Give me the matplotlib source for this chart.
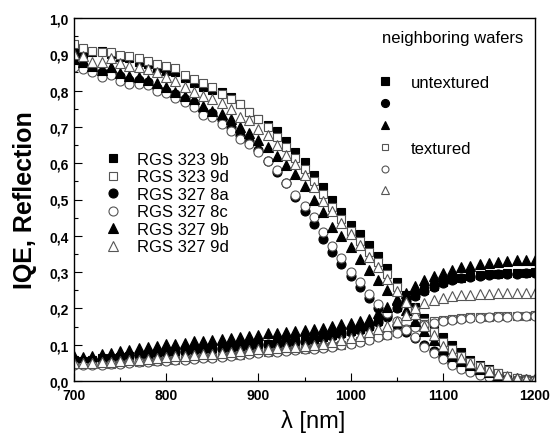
import numpy as np
import matplotlib
matplotlib.use("Agg")
import matplotlib.pyplot as plt
from matplotlib.ticker import MultipleLocator, FuncFormatter

plt.rcParams['font.family'] = ['Liberation Sans', 'DejaVu Sans']

# wavelength grid (nm), one point every 10 nm
lam = list(range(700, 1201, 10))

# internal quantum efficiency
iqe_323_9b = [0.905, 0.900, 0.905, 0.908, 0.900, 0.893, 0.889, 0.878, 0.873, 0.862,
              0.855, 0.850, 0.834, 0.822, 0.810, 0.802, 0.795, 0.781, 0.762, 0.741,
              0.722, 0.705, 0.690, 0.661, 0.632, 0.603, 0.567, 0.535, 0.499, 0.466,
              0.431, 0.405, 0.375, 0.343, 0.310, 0.272, 0.237, 0.203, 0.174, 0.146,
              0.121, 0.099, 0.079, 0.059, 0.044, 0.033, 0.023, 0.013, 0.008, 0.005,
              0.004]
iqe_323_9d = [0.928, 0.917, 0.910, 0.905, 0.905, 0.898, 0.896, 0.889, 0.882, 0.873,
              0.869, 0.861, 0.843, 0.832, 0.820, 0.809, 0.791, 0.776, 0.763, 0.741,
              0.722, 0.700, 0.672, 0.645, 0.613, 0.585, 0.550, 0.516, 0.480, 0.446,
              0.413, 0.386, 0.356, 0.328, 0.295, 0.260, 0.226, 0.192, 0.162, 0.136,
              0.108, 0.087, 0.069, 0.053, 0.040, 0.030, 0.021, 0.013, 0.008, 0.005,
              0.004]
iqe_327_8a = [0.875, 0.870, 0.860, 0.850, 0.852, 0.840, 0.830, 0.828, 0.823, 0.806,
              0.800, 0.790, 0.778, 0.765, 0.745, 0.737, 0.718, 0.700, 0.677, 0.662,
              0.636, 0.605, 0.577, 0.545, 0.508, 0.469, 0.432, 0.390, 0.356, 0.322,
              0.290, 0.258, 0.230, 0.201, 0.176, 0.155, 0.135, 0.118, 0.100, 0.083,
              0.066, 0.050, 0.038, 0.028, 0.020, 0.013, 0.008, 0.005, 0.003, 0.002,
              0.002]
iqe_327_8c = [0.864, 0.860, 0.850, 0.838, 0.843, 0.827, 0.818, 0.818, 0.815, 0.800,
              0.793, 0.779, 0.768, 0.754, 0.733, 0.726, 0.708, 0.690, 0.667, 0.652,
              0.632, 0.607, 0.580, 0.545, 0.513, 0.481, 0.451, 0.411, 0.373, 0.338,
              0.301, 0.274, 0.240, 0.212, 0.188, 0.165, 0.143, 0.120, 0.093, 0.077,
              0.061, 0.044, 0.033, 0.024, 0.017, 0.011, 0.007, 0.004, 0.003, 0.002,
              0.002]
iqe_327_9b = [0.887, 0.878, 0.869, 0.858, 0.864, 0.848, 0.839, 0.837, 0.830, 0.821,
              0.809, 0.797, 0.786, 0.777, 0.757, 0.745, 0.736, 0.721, 0.699, 0.684,
              0.665, 0.644, 0.620, 0.596, 0.570, 0.538, 0.498, 0.465, 0.425, 0.400,
              0.370, 0.335, 0.306, 0.278, 0.251, 0.222, 0.195, 0.166, 0.139, 0.114,
              0.089, 0.070, 0.055, 0.043, 0.033, 0.024, 0.017, 0.012, 0.008, 0.006,
              0.005]
iqe_327_9d = [0.900, 0.894, 0.880, 0.878, 0.889, 0.876, 0.869, 0.864, 0.860, 0.850,
              0.837, 0.827, 0.809, 0.797, 0.786, 0.777, 0.767, 0.749, 0.726, 0.718,
              0.695, 0.679, 0.650, 0.623, 0.597, 0.568, 0.534, 0.497, 0.469, 0.435,
              0.405, 0.376, 0.341, 0.313, 0.281, 0.249, 0.218, 0.185, 0.152, 0.127,
              0.097, 0.078, 0.064, 0.050, 0.038, 0.028, 0.019, 0.013, 0.008, 0.006,
              0.005]

# reflection
refl_323_9b = [0.057, 0.056, 0.058, 0.062, 0.064, 0.067, 0.070, 0.073, 0.075, 0.078,
               0.081, 0.083, 0.085, 0.087, 0.089, 0.090, 0.092, 0.094, 0.096, 0.099,
               0.101, 0.103, 0.105, 0.107, 0.110, 0.113, 0.117, 0.121, 0.126, 0.131,
               0.137, 0.144, 0.152, 0.166, 0.185, 0.205, 0.224, 0.238, 0.251, 0.263,
               0.272, 0.280, 0.285, 0.289, 0.292, 0.294, 0.296, 0.297, 0.298, 0.298,
               0.299]
refl_323_9d = [0.047, 0.046, 0.046, 0.047, 0.048, 0.050, 0.051, 0.053, 0.054, 0.056,
               0.058, 0.059, 0.061, 0.063, 0.065, 0.066, 0.068, 0.071, 0.073, 0.076,
               0.079, 0.081, 0.083, 0.085, 0.087, 0.089, 0.091, 0.094, 0.097, 0.100,
               0.104, 0.109, 0.116, 0.123, 0.128, 0.135, 0.143, 0.151, 0.158, 0.164,
               0.168, 0.171, 0.173, 0.175, 0.176, 0.177, 0.178, 0.179, 0.180, 0.180,
               0.181]
refl_327_8a = [0.055, 0.055, 0.057, 0.060, 0.062, 0.065, 0.068, 0.071, 0.073, 0.076,
               0.079, 0.081, 0.083, 0.085, 0.087, 0.088, 0.090, 0.092, 0.094, 0.097,
               0.099, 0.101, 0.103, 0.105, 0.108, 0.111, 0.115, 0.119, 0.124, 0.129,
               0.135, 0.141, 0.150, 0.163, 0.181, 0.201, 0.220, 0.235, 0.248, 0.260,
               0.269, 0.277, 0.283, 0.287, 0.290, 0.292, 0.294, 0.295, 0.296, 0.297,
               0.297]
refl_327_8c = [0.045, 0.043, 0.043, 0.045, 0.046, 0.048, 0.049, 0.051, 0.052, 0.054,
               0.056, 0.057, 0.059, 0.061, 0.063, 0.064, 0.066, 0.069, 0.071, 0.074,
               0.077, 0.079, 0.081, 0.083, 0.085, 0.087, 0.089, 0.092, 0.095, 0.098,
               0.102, 0.107, 0.113, 0.120, 0.126, 0.133, 0.140, 0.148, 0.155, 0.161,
               0.165, 0.168, 0.171, 0.173, 0.174, 0.175, 0.176, 0.177, 0.178, 0.178,
               0.179]
refl_327_9b = [0.068, 0.067, 0.070, 0.075, 0.078, 0.082, 0.086, 0.090, 0.093, 0.097,
               0.101, 0.103, 0.106, 0.109, 0.111, 0.113, 0.115, 0.118, 0.121, 0.125,
               0.128, 0.131, 0.133, 0.135, 0.137, 0.140, 0.143, 0.147, 0.152, 0.156,
               0.160, 0.165, 0.172, 0.186, 0.205, 0.225, 0.243, 0.262, 0.277, 0.289,
               0.298, 0.307, 0.313, 0.318, 0.322, 0.326, 0.329, 0.331, 0.333, 0.334,
               0.334]
refl_327_9d = [0.050, 0.049, 0.050, 0.052, 0.053, 0.055, 0.057, 0.059, 0.061, 0.063,
               0.066, 0.068, 0.070, 0.072, 0.074, 0.075, 0.077, 0.080, 0.082, 0.085,
               0.087, 0.089, 0.091, 0.093, 0.095, 0.097, 0.099, 0.103, 0.108, 0.114,
               0.118, 0.125, 0.134, 0.143, 0.152, 0.165, 0.182, 0.200, 0.214, 0.223,
               0.229, 0.233, 0.236, 0.238, 0.240, 0.241, 0.242, 0.242, 0.243, 0.243,
               0.243]

samples = ["RGS 323 9b", "RGS 323 9d", "RGS 327 8a", "RGS 327 8c", "RGS 327 9b", "RGS 327 9d"]
iqe = [iqe_323_9b, iqe_323_9d, iqe_327_8a, iqe_327_8c, iqe_327_9b, iqe_327_9d]
refl = [refl_323_9b, refl_323_9d, refl_327_8a, refl_327_8c, refl_327_9b, refl_327_9d]

grey = '#555555'
styles = [
    dict(marker='s', ms=6.0, mfc='black', mec='black'),
    dict(marker='s', ms=6.0, mfc='white', mec=grey),
    dict(marker='o', ms=6.5, mfc='black', mec='black'),
    dict(marker='o', ms=6.5, mfc='white', mec=grey),
    dict(marker='^', ms=6.8, mfc='black', mec='black'),
    dict(marker='^', ms=6.8, mfc='white', mec=grey),
]

fig = plt.figure(figsize=(5.52, 4.35), dpi=100)
ax = fig.add_axes([74 / 552, 1 - 382 / 435, 461 / 552, 363 / 435])

handles = []
for name, y1, y2, st in zip(samples, iqe, refl, styles):
    h, = ax.plot(lam, y1, ls='none', mew=0.8, label=name, **st)
    ax.plot(lam, y2, ls='none', mew=0.8, **st)
    handles.append(h)

ax.set_xlim(700, 1200)
ax.set_ylim(0, 1.0)
ax.xaxis.set_major_locator(MultipleLocator(100))
ax.xaxis.set_minor_locator(MultipleLocator(50))
ax.yaxis.set_major_locator(MultipleLocator(0.1))
ax.yaxis.set_minor_locator(MultipleLocator(0.05))
ax.yaxis.set_major_formatter(FuncFormatter(lambda v, p: f"{v:.1f}".replace('.', ',')))
ax.tick_params(which='both', direction='in', top=False, right=False, width=0.8)
ax.tick_params(which='major', length=5.5, labelsize=10)
ax.tick_params(axis='x', which='major', pad=5)
ax.tick_params(axis='y', which='major', pad=4)
ax.tick_params(which='minor', length=3)
for lbl in ax.get_xticklabels() + ax.get_yticklabels():
    lbl.set_fontweight('bold')
for sp in ax.spines.values():
    sp.set_linewidth(1.0)

ax.set_xlabel("λ [nm]", fontsize=17)
ax.xaxis.label.set_va('baseline')
ax.xaxis.set_label_coords(0.518, -0.127)
ax.set_ylabel("IQE, Reflection", fontsize=18, fontweight='bold')
ax.yaxis.label.set_va('center')
ax.yaxis.set_label_coords(-0.107, 0.5)

leg1 = ax.legend(handles=handles, loc='upper left', bbox_to_anchor=(0.0666, 0.631),
                 frameon=False, fontsize=12, handlelength=1.0, handletextpad=0.94,
                 labelspacing=0.15, borderpad=0, borderaxespad=0)

# second key: untextured (filled) / textured (open)
tr = ax.transAxes
ax.text(0.6675, 0.934, "neighboring wafers", transform=tr, fontsize=12, va='baseline')
ax.text(0.7304, 0.810, "untextured", transform=tr, fontsize=12, va='baseline')
ax.text(0.7304, 0.628, "textured", transform=tr, fontsize=12, va='baseline')
key_x = 0.6746
key_rows = [0.8264, 0.7658, 0.7052, 0.6446, 0.5840, 0.5262]
key_styles = [
    dict(marker='s', ms=5.2, mfc='black', mec='black'),
    dict(marker='o', ms=5.8, mfc='black', mec='black'),
    dict(marker='^', ms=6.0, mfc='black', mec='black'),
    dict(marker='s', ms=4.5, mfc='white', mec=grey),
    dict(marker='o', ms=5.0, mfc='white', mec=grey),
    dict(marker='^', ms=5.5, mfc='white', mec=grey),
]
for ky, st in zip(key_rows, key_styles):
    ax.plot([key_x], [ky], transform=tr, ls='none', mew=0.8, clip_on=False, **st)

fig.savefig("out.png", dpi=100)
